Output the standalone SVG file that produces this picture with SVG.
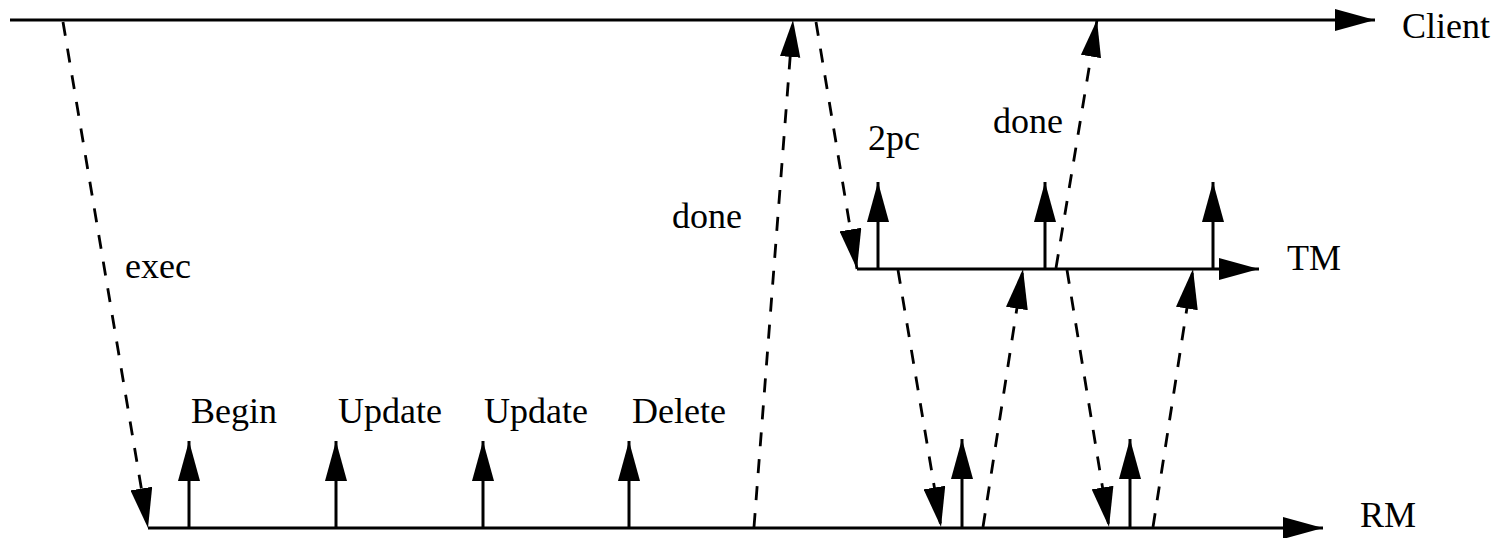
<svg xmlns="http://www.w3.org/2000/svg" width="1501" height="538" viewBox="0 0 1501 538">
<style>
.axis{stroke:#000;stroke-width:3;fill:none}
.msg{stroke:#000;stroke-width:2.8;fill:none;stroke-dasharray:14 13}
.evt{stroke:#000;stroke-width:3;fill:none}
text{font-family:"Liberation Serif","Times New Roman",serif;font-size:36px;fill:#000}
</style>
<defs>
<marker id="ah" viewBox="0 0 40 22" refX="40" refY="11" markerWidth="40" markerHeight="22" markerUnits="userSpaceOnUse" orient="auto">
<path d="M0,0 L40,11 L0,22 z" fill="#000"/>
</marker>
<marker id="ahs" viewBox="0 0 40 22" refX="40" refY="11" markerWidth="37" markerHeight="22" markerUnits="userSpaceOnUse" orient="auto">
<path d="M0,0 L40,11 L0,22 z" fill="#000"/>
</marker>
</defs>
<g id="client">
<line class="axis" x1="10" y1="20" x2="1375" y2="20" marker-end="url(#ah)"/>
<text x="1402" y="38">Client</text>
</g>
<g id="tm">
<line class="axis" x1="857" y1="269" x2="1259" y2="269" marker-end="url(#ah)"/>
<text x="1287" y="270">TM</text>
<line class="evt" x1="878" y1="269" x2="878" y2="182" marker-end="url(#ah)"/>
<line class="evt" x1="1045" y1="269" x2="1045" y2="182" marker-end="url(#ah)"/>
<line class="evt" x1="1213" y1="269" x2="1213" y2="182" marker-end="url(#ah)"/>
</g>
<g id="rm">
<line class="axis" x1="148" y1="528" x2="1323" y2="528" marker-end="url(#ah)"/>
<text x="1360" y="527">RM</text>
<line class="evt" x1="189" y1="528" x2="189" y2="441" marker-end="url(#ah)"/>
<text x="191" y="423">Begin</text>
<line class="evt" x1="336" y1="528" x2="336" y2="441" marker-end="url(#ah)"/>
<text x="338" y="423">Update</text>
<line class="evt" x1="483" y1="528" x2="483" y2="441" marker-end="url(#ah)"/>
<text x="484" y="423">Update</text>
<line class="evt" x1="629" y1="528" x2="629" y2="441" marker-end="url(#ah)"/>
<text x="632" y="423">Delete</text>
<line class="evt" x1="962" y1="528" x2="962" y2="439" marker-end="url(#ah)"/>
<line class="evt" x1="1130" y1="528" x2="1130" y2="439" marker-end="url(#ah)"/>
</g>
<g id="connectors">
<line class="msg" x1="63" y1="22" x2="148" y2="528" marker-end="url(#ah)"/>
<text x="125" y="278">exec</text>
<line class="msg" x1="754" y1="527" x2="793" y2="20" marker-end="url(#ahs)"/>
<text x="672" y="228">done</text>
<line class="msg" x1="816" y1="22" x2="857" y2="269" marker-end="url(#ah)"/>
<text x="868" y="150">2pc</text>
<line class="msg" x1="898" y1="270" x2="941" y2="527" marker-end="url(#ah)"/>
<line class="msg" x1="983" y1="527" x2="1023" y2="269" marker-end="url(#ah)"/>
<line class="msg" x1="1067" y1="270" x2="1109" y2="527" marker-end="url(#ah)"/>
<line class="msg" x1="1153" y1="527" x2="1193" y2="269" marker-end="url(#ah)"/>
<line class="msg" x1="1056" y1="268" x2="1097" y2="20" marker-end="url(#ahs)"/>
<text x="993" y="133">done</text>
</g>
</svg>
